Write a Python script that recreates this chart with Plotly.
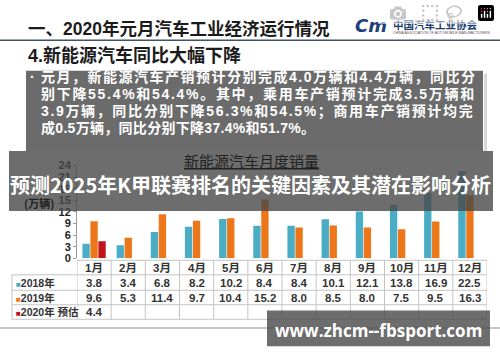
import plotly.graph_objects as go

# ---------------- data ----------------
months = ['1月', '2月', '3月', '4月', '5月', '6月', '7月', '8月', '9月', '10月', '11月', '12月']
sales_2018 = [3.8, 3.4, 6.8, 8.2, 10.2, 8.4, 8.4, 10.1, 12.1, 13.8, 16.9, 22.5]
sales_2019 = [9.6, 5.3, 11.4, 9.7, 10.4, 15.2, 8.0, 8.5, 8.0, 7.5, 9.5, 16.3]
sales_2020 = [4.4, None, None, None, None, None, None, None, None, None, None, None]
series_names = ['2018年', '2019年', '2020年 预估']
y_ticks = [0, 3, 6, 9, 12, 15, 18, 21, 24]

page_title = '一、2020年元月汽车工业经济运行情况'
section_title = '4.新能源汽车同比大幅下降'
box_lines = [
    '元月，新能源汽车产销预计分别完成4.0万辆和4.4万辆，同比分',
    '别下降55.4%和54.4%。其中，乘用车产销预计完成3.5万辆和',
    '3.9万辆，同比分别下降56.3%和54.5%；商用车产销预计均完',
    '成0.5万辆，同比分别下降37.4%和51.7%。',
]
chart_title = '新能源汽车月度销量'
overlay_title = '预测2025年K甲联赛排名的关键因素及其潜在影响分析'
watermark = 'www.zhcm--fbsport.com'

# ---------------- style ----------------
W, H = 500, 362
C18, C19, C20 = '#4bacc6', '#ec7619', '#c0131a'
FONT = 'Liberation Sans, Noto Sans CJK SC, sans-serif'
CJK = 'Noto Sans CJK SC, sans-serif'
GRID = '#c4c4c4'
DIM = 'rgba(72,72,72,0.80)'
line_spacing = [1.5, 1.7, 1.65, 0.3]   # justified text in the box

def px(x):
    return x / W

def py(y):
    return 1 - y / H

X0, X1 = 77, 487          # plot area left/right (px)
Y0, Y24 = 261, 165        # y=0 and y=24 (px)

fig = go.Figure()
x_idx = list(range(len(months)))
for name, vals, col in zip(series_names, [sales_2018, sales_2019, sales_2020], [C18, C19, C20]):
    fig.add_trace(go.Bar(x=x_idx, y=vals, name=name, marker=dict(color=col, line=dict(width=0)),
                         showlegend=False, hoverinfo='skip'))

shapes = []
ann = []

# title line
shapes.append(dict(type='line', xref='paper', yref='paper', x0=0, x1=1, y0=py(35.5), y1=py(35.5),
                   line=dict(color='#3e5268', width=1.5)))
# text box
shapes.append(dict(type='rect', xref='paper', yref='paper', x0=px(484), x1=px(487), y0=py(70), y1=py(150),
                   fillcolor='#d8d8d8', line=dict(width=0), layer='below'))
shapes.append(dict(type='rect', xref='paper', yref='paper', x0=px(26), x1=px(483), y0=py(67), y1=py(150),
                   fillcolor='#6b6b6b', line=dict(width=0), layer='below'))

# table grid
rows_y = [263, 278, 294, 309, 324]
for i, yy in enumerate(rows_y):
    xs = X0 if i == 0 else 12
    shapes.append(dict(type='line', xref='paper', yref='paper', x0=px(xs), x1=px(X1), y0=py(yy), y1=py(yy),
                       line=dict(color=GRID, width=1)))
for i in range(len(months) + 1):
    shapes.append(dict(type='line', xref='x', yref='paper', x0=i - 0.5, x1=i - 0.5, y0=py(263), y1=py(324),
                       line=dict(color=GRID, width=1)))
shapes.append(dict(type='line', xref='paper', yref='paper', x0=px(12), x1=px(12), y0=py(278), y1=py(324),
                   line=dict(color=GRID, width=1)))
# footer line
shapes.append(dict(type='line', xref='paper', yref='paper', x0=0, x1=1, y0=py(333), y1=py(333),
                   line=dict(color='#b5b5b5', width=1.5)))

# texts
ann.append(dict(text=page_title, x=px(26), y=py(24), xanchor='left', yanchor='middle',
                font=dict(family=FONT, size=17.5, color='#1b1b1b', weight='bold')))
ann.append(dict(text=section_title, x=px(26), y=py(51), xanchor='left', yanchor='middle',
                font=dict(family=FONT, size=18, color='#1b1b1b', weight='bold')))
# logo
ann.append(dict(text='<i>Cm</i>', x=px(353), y=py(20), xanchor='left', yanchor='middle',
                font=dict(family='DejaVu Sans, sans-serif', size=18, color='#1e3f7a', weight='bold')))
ann.append(dict(text='中国汽车工业协会', x=px(391), y=py(19), xanchor='left', yanchor='middle',
                font=dict(family=CJK, size=10.5, color='#203a6e', weight='bold')))
ann.append(dict(text='CHINA ASSOCIATION OF AUTOMOBILE MANUFACTURERS', x=px(391), y=py(28), xanchor='left',
                yanchor='middle', font=dict(family=FONT, size=3.5, color='#555')))

ann.append(dict(text='·', x=px(28), y=py(73), xanchor='left', yanchor='middle',
                font=dict(family=FONT, size=14, color='white', weight='bold')))
for k, line in enumerate(box_lines):
    txt = f'<span style="letter-spacing:{line_spacing[k]}px">{line}</span>' if line_spacing[k] else line
    ann.append(dict(text=txt, x=px(39), y=py(73.5 + 17.7 * k), xanchor='left', yanchor='middle',
                    font=dict(family=FONT, size=14, color='white', weight='bold')))

ann.append(dict(text='<u>' + chart_title + '</u>', x=px(251), y=py(160), xanchor='center', yanchor='middle',
                font=dict(family=CJK, size=15, color='#222')))
ann.append(dict(text='(万辆)', x=px(39), y=py(204), xanchor='center', yanchor='middle',
                font=dict(family=CJK, size=11, color='#222', weight='bold')))

# table texts
for i, m in enumerate(months):
    ann.append(dict(text=m, x=i, xref='x', y=py(271), yanchor='middle', xanchor='center',
                    font=dict(family=FONT, size=11.5, color='#333', weight='bold')))
row_centers = [286, 302, 317]
for vals, yc in zip([sales_2018, sales_2019, sales_2020], row_centers):
    for i, v in enumerate(vals):
        if v is None:
            continue
        ann.append(dict(text=f'{v:.1f}', x=i, xref='x', y=py(yc), yanchor='middle', xanchor='center',
                        font=dict(family=FONT, size=11.5, color='#333', weight='bold')))
for name, col, yc in zip(series_names, [C18, C19, C20], row_centers):
    ann.append(dict(text=f'<span style="color:{col};font-size:8px">■</span>{name}', x=px(14), y=py(yc),
                    xanchor='left', yanchor='middle',
                    font=dict(family=FONT, size=10.5, color='#333', weight='bold')))

# overlays
shapes.append(dict(type='rect', xref='paper', yref='paper', x0=px(9), x1=px(493), y0=py(150), y1=py(212),
                   fillcolor=DIM, line=dict(width=0), layer='above'))
shapes.append(dict(type='rect', xref='paper', yref='paper', x0=px(267), x1=px(490), y0=py(315), y1=py(352),
                   fillcolor=DIM, line=dict(width=0), layer='above'))
ann.append(dict(text=overlay_title, x=px(250), y=py(185), xanchor='center', yanchor='middle',
                font=dict(family=CJK, size=20, color='white', weight='bold')))
ann.append(dict(text=watermark, x=px(378), y=py(336), xanchor='center', yanchor='middle',
                font=dict(family='Open Sans, sans-serif', size=17, color='white', weight='bold')))

for a in ann:
    a.setdefault('xref', 'paper')
    a.setdefault('yref', 'paper')
    a['showarrow'] = False

fig.update_layout(
    width=W, height=H, margin=dict(l=0, r=0, t=0, b=0),
    paper_bgcolor='white', plot_bgcolor='rgba(0,0,0,0)',
    barmode='group', bargap=0.3, bargroupgap=0.08,
    shapes=shapes, annotations=ann,
    xaxis=dict(domain=[px(X0), px(X1)], range=[-0.5, 11.5], showticklabels=False, ticks='',
               showgrid=False, zeroline=False, showline=False, fixedrange=True),
    yaxis=dict(domain=[py(Y0), py(Y24)], range=[0, 24], tickvals=y_ticks, ticks='outside', ticklen=3,
               tickcolor='#999', showline=True, linecolor='#999', linewidth=1, showgrid=False,
               zeroline=False, tickfont=dict(family=FONT, size=11, color='#222', weight='bold'),
               fixedrange=True),
)

fig.write_html('out.html', post_script="document.body.style.margin='0';document.body.style.overflow='hidden';")
